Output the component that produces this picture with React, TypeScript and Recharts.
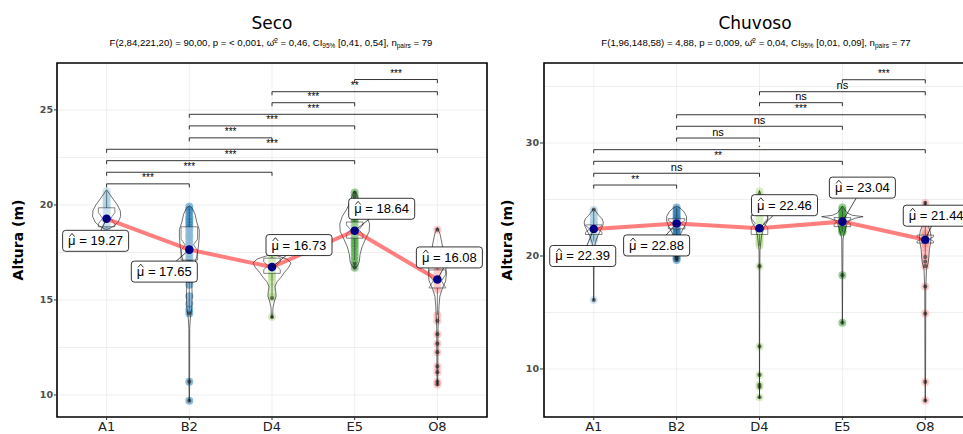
import React from "react";
import { ComposedChart, Scatter, XAxis, YAxis, CartesianGrid, ReferenceArea } from "recharts";

const groups = ["A1", "B2", "D4", "E5", "O8"];
const groupColors = ["#A6CEE3", "#1F78B4", "#B2DF8A", "#33A02C", "#FB9A99"];

// ---- Seco ----
const secoPoints = [
  [20.72, 20.55, 20.4, 20.3, 20.15, 20.05, 19.95, 19.85, 19.75, 19.65, 19.55, 19.45, 19.35, 19.3, 19.2, 19.1, 19.0, 18.95, 18.85, 18.8],
  [19.9, 19.75, 19.6, 19.4, 19.25, 19.1, 18.95, 18.8, 18.7, 18.55, 18.4, 18.3, 18.15, 18.0, 17.85, 17.7, 17.55, 17.4, 17.25, 17.1, 16.9, 16.7, 16.5, 16.3, 16.1, 15.8, 15.2, 14.8, 14.5, 14.3, 10.7, 9.7],
  [17.35, 17.2, 17.05, 16.95, 16.85, 16.75, 16.65, 16.55, 16.45, 16.35, 16.25, 16.1, 15.95, 15.7, 15.35, 15.2, 15.1, 14.1],
  [20.65, 20.45, 20.2, 19.95, 19.7, 19.5, 19.3, 19.15, 19.0, 18.85, 18.7, 18.6, 18.5, 18.4, 18.3, 18.15, 18.0, 17.85, 17.7, 17.5, 17.3, 17.1, 16.9, 16.7],
  [18.7, 17.3, 17.0, 16.8, 16.6, 16.45, 16.3, 16.15, 16.0, 15.85, 15.7, 15.55, 14.2, 13.9, 13.2, 12.7, 12.25, 11.5, 11.2, 10.7, 10.55],
];
const secoMeans = [19.27, 17.65, 16.73, 18.64, 16.08];
// [lower whisker, q1, median, q3, upper whisker]
const secoBoxes = [
  [18.8, 18.85, 19.3, 19.85, 20.72],
  [14.5, 17.1, 17.9, 18.85, 19.9],
  [15.2, 16.4, 16.8, 17.2, 17.35],
  [17.1, 18.25, 18.7, 19.1, 20.2],
  [14.2, 15.63, 16.0, 16.58, 17.3],
];
const secoNotches = [0.3, 0.3, 0.2, 0.25, 0.35];
// violin outline: [height, half width in category units]
const secoViolins = [
  [[20.8, 0], [20.55, 0.04], [20.3, 0.08], [20.0, 0.13], [19.7, 0.165], [19.4, 0.17], [19.1, 0.14], [18.9, 0.09], [18.75, 0.03], [18.72, 0]],
  [[19.95, 0], [19.8, 0.04], [19.5, 0.07], [19.1, 0.09], [18.7, 0.12], [18.3, 0.12], [17.8, 0.11], [17.3, 0.09], [16.8, 0.06], [16.3, 0.04], [15.8, 0.03], [15.2, 0.035], [14.6, 0.03], [14.0, 0.012], [13.5, 0.005], [10.5, 0.004], [9.65, 0]],
  [[17.4, 0], [17.3, 0.08], [17.15, 0.18], [16.95, 0.23], [16.7, 0.2], [16.45, 0.15], [16.2, 0.11], [15.95, 0.06], [15.7, 0.035], [15.45, 0.045], [15.2, 0.05], [14.95, 0.03], [14.6, 0.012], [14.2, 0.008], [14.05, 0]],
  [[20.72, 0], [20.5, 0.03], [20.1, 0.06], [19.75, 0.1], [19.4, 0.15], [19.0, 0.18], [18.6, 0.175], [18.2, 0.13], [17.8, 0.09], [17.4, 0.065], [17.0, 0.055], [16.8, 0.035], [16.68, 0]],
  [[18.8, 0], [18.5, 0.03], [18.1, 0.05], [17.6, 0.07], [17.2, 0.085], [16.8, 0.1], [16.4, 0.11], [16.0, 0.1], [15.6, 0.06], [15.2, 0.03], [14.7, 0.02], [14.2, 0.015], [13.5, 0.008], [11.0, 0.005], [10.5, 0]],
];
const secoBrackets = [
  ["A1", "B2", 21.11, "***"],
  ["A1", "D4", 21.72, "***"],
  ["A1", "E5", 22.33, "***"],
  ["A1", "O8", 22.93, "***"],
  ["B2", "D4", 23.53, "***"],
  ["B2", "E5", 24.16, "***"],
  ["B2", "O8", 24.77, "***"],
  ["D4", "E5", 25.38, "***"],
  ["D4", "O8", 25.96, "**"],
  ["E5", "O8", 26.6, "***"],
];

// ---- Chuvoso ----
const chuvosoPoints = [
  [24.1, 23.9, 23.7, 23.5, 23.3, 23.1, 22.95, 22.8, 22.65, 22.5, 22.35, 22.2, 22.05, 21.9, 21.75, 21.6, 21.45, 21.3, 16.1],
  [24.3, 24.1, 23.9, 23.7, 23.5, 23.35, 23.2, 23.05, 22.9, 22.75, 22.6, 22.45, 22.3, 22.15, 22.0, 21.8, 21.6, 21.4, 21.1, 20.8, 20.4, 20.0, 19.8, 19.65],
  [25.7, 25.4, 25.0, 24.6, 24.2, 23.9, 23.6, 23.35, 23.1, 22.9, 22.7, 22.5, 22.3, 22.1, 21.9, 21.7, 21.5, 21.3, 21.1, 20.9, 19.1, 12.0, 9.47, 8.6, 8.4, 7.5],
  [24.3, 24.1, 23.9, 23.75, 23.6, 23.45, 23.3, 23.2, 23.1, 23.0, 22.9, 22.8, 22.7, 22.6, 22.5, 22.35, 22.2, 22.1, 18.3, 14.1],
  [24.7, 24.3, 23.5, 22.8, 22.3, 22.0, 21.9, 21.8, 21.7, 21.6, 21.5, 21.5, 21.4, 21.3, 21.2, 21.1, 21.0, 20.7, 20.3, 19.9, 19.5, 19.1, 17.3, 14.9, 8.85, 7.2],
];
const chuvosoMeans = [22.39, 22.88, 22.46, 23.04, 21.44];
const chuvosoBoxes = [
  [21.3, 21.9, 22.4, 22.75, 23.9],
  [21.1, 22.4, 22.9, 23.3, 24.3],
  [20.9, 21.9, 22.9, 23.6, 25.7],
  [22.1, 22.6, 23.05, 23.4, 24.3],
  [20.0, 21.15, 21.5, 21.85, 22.8],
];
const chuvosoNotches = [0.3, 0.25, 0.4, 0.2, 0.2];
const chuvosoViolins = [
  [[24.15, 0], [23.9, 0.03], [23.6, 0.06], [23.3, 0.1], [23.0, 0.115], [22.7, 0.11], [22.4, 0.09], [22.1, 0.07], [21.8, 0.05], [21.5, 0.035], [21.2, 0.02], [20.5, 0.006], [16.05, 0]],
  [[24.4, 0], [24.2, 0.05], [23.9, 0.09], [23.5, 0.12], [23.1, 0.12], [22.7, 0.1], [22.3, 0.07], [21.9, 0.045], [21.4, 0.03], [20.8, 0.02], [20.2, 0.015], [19.7, 0.008], [19.6, 0]],
  [[25.8, 0], [25.4, 0.02], [24.8, 0.03], [24.2, 0.05], [23.8, 0.08], [23.4, 0.1], [23.0, 0.09], [22.6, 0.06], [22.2, 0.04], [21.8, 0.025], [21.2, 0.015], [20.5, 0.006], [19.0, 0.004], [7.4, 0]],
  [[24.4, 0], [24.1, 0.03], [23.8, 0.06], [23.6, 0.12], [23.48, 0.25], [23.35, 0.16], [23.15, 0.09], [22.9, 0.06], [22.6, 0.045], [22.3, 0.035], [22.0, 0.02], [21.5, 0.008], [18.0, 0.004], [14.0, 0]],
  [[24.8, 0], [24.3, 0.01], [23.5, 0.015], [22.8, 0.03], [22.2, 0.06], [21.7, 0.07], [21.2, 0.065], [20.6, 0.05], [20.0, 0.045], [19.4, 0.035], [18.8, 0.015], [17.0, 0.006], [10.0, 0.004], [7.1, 0]],
];
const chuvosoBrackets = [
  ["A1", "B2", 26.28, "**"],
  ["A1", "D4", 27.32, "ns"],
  ["A1", "E5", 28.38, "**"],
  ["A1", "O8", 29.41, "."],
  ["B2", "D4", 30.44, "ns"],
  ["B2", "E5", 31.48, "ns"],
  ["B2", "O8", 32.5, "***"],
  ["D4", "E5", 33.57, "ns"],
  ["D4", "O8", 34.54, "ns"],
  ["E5", "O8", 35.6, "***"],
];

// label box offsets in px from each mean point
const secoLabelOffsets = [[-11, 22], [-25, 22], [27, -22], [27, -22], [12, -22]];
const chuvosoLabelOffsets = [[-11, 27], [-20, 22], [25, -23], [20, -34], [11, -24]];

const NoDot = () => <g />;

function violinOutline(c, profile) {
  const right = profile.map(([y, w]) => ({ x: c + w, y }));
  const left = profile.slice().reverse().map(([y, w]) => ({ x: c - w, y }));
  return [...right, ...left, right[0]];
}

function boxOutline(c, box, notch) {
  const [, q1, med, q3] = box;
  const w = 0.1;
  const wi = 0.05;
  return [
    { x: c - w, y: q3 }, { x: c - w, y: med + notch }, { x: c - wi, y: med }, { x: c - w, y: med - notch }, { x: c - w, y: q1 },
    { x: c + w, y: q1 }, { x: c + w, y: med - notch }, { x: c + wi, y: med }, { x: c + w, y: med + notch }, { x: c + w, y: q3 },
    { x: c - w, y: q3 },
  ];
}

const MeanLabel = (p) => {
  const { cx, cy, payload } = p;
  const lx = cx + payload.dx;
  const ly = cy + payload.dy;
  const x0 = lx - 27.5;
  return (
    <g>
      <line x1={cx} y1={cy} x2={lx} y2={ly} stroke="#000" strokeWidth={0.7} />
      <rect x={lx - 33} y={ly - 10.5} width={66} height={21} rx={3} fill="#fff" stroke="#000" strokeWidth={0.8} />
      <text x={x0} y={ly + 4.5} fontSize={13} fontFamily="Liberation Sans, Arial, sans-serif" fill="#000">
        {"\u03BC = " + payload.text}
      </text>
      <path d={`M${x0 + 1.2},${ly - 4.2} L${x0 + 3.9},${ly - 7.4} L${x0 + 6.6},${ly - 4.2}`} stroke="#000" strokeWidth={0.8} fill="none" />
    </g>
  );
};

const BracketLabel = (p) => {
  const { cx, cy, payload } = p;
  const ns = payload.text === "ns";
  return (
    <text x={cx} y={cy - 2.5} textAnchor="middle" fontSize={ns ? 11 : 10} fontFamily="Liberation Sans, Arial, sans-serif" fill="#000">
      {payload.text}
    </text>
  );
};

function Panel({ points, means, boxes, notches, violins, brackets, domain, ticks, gridValues, labelOffsets, margin, tickSize }) {
  const tip = (domain[1] - domain[0]) * 0.01;
  const pos = (g) => groups.indexOf(g) + 1;
  return (
    <ComposedChart width={490} height={434} margin={margin}>
      <CartesianGrid stroke="#ebebeb" strokeWidth={0.8} horizontalValues={gridValues} verticalValues={[1, 2, 3, 4, 5]} />
      <XAxis
        type="number"
        dataKey="x"
        domain={[0.4, 5.6]}
        allowDataOverflow
        ticks={[1, 2, 3, 4, 5]}
        interval={0}
        tickFormatter={(v) => groups[v - 1]}
        height={17}
        tickSize={3}
        tickMargin={2}
        axisLine={false}
        tickLine={{ stroke: "#333" }}
        tick={{ fill: "#222", fontSize: 13, fontFamily: "DejaVu Sans" }}
      />
      <YAxis
        type="number"
        dataKey="y"
        domain={domain}
        allowDataOverflow
        ticks={ticks}
        interval={0}
        width={35}
        tickSize={tickSize}
        tickMargin={1}
        axisLine={false}
        tickLine={{ stroke: "#333" }}
        tick={{ fill: "#4d4d4d", fontSize: 9.5, fontWeight: "bold", fontFamily: "DejaVu Sans" }}
      />

      {points.map((vals, i) => (
        <Scatter
          key={"pts" + i}
          data={vals.map((v) => ({ x: i + 1, y: v }))}
          shape={(p) => <circle cx={p.cx} cy={p.cy} r={4} fill={groupColors[i]} fillOpacity={0.5} />}
          isAnimationActive={false}
        />
      ))}

      {boxes.map((b, i) => (
        <Scatter
          key={"box" + i}
          data={boxOutline(i + 1, b, notches[i])}
          line={{ stroke: "#333", strokeWidth: 0.6, fill: "#fff", fillOpacity: 0.4 }}
          lineType="joint"
          shape={NoDot}
          isAnimationActive={false}
        />
      ))}
      {boxes.map((b, i) => (
        <Scatter key={"wu" + i} data={[{ x: i + 1, y: b[3] }, { x: i + 1, y: b[4] }]} line={{ stroke: "#333", strokeWidth: 0.6 }} lineType="joint" shape={NoDot} isAnimationActive={false} />
      ))}
      {boxes.map((b, i) => (
        <Scatter key={"wl" + i} data={[{ x: i + 1, y: b[1] }, { x: i + 1, y: b[0] }]} line={{ stroke: "#333", strokeWidth: 0.6 }} lineType="joint" shape={NoDot} isAnimationActive={false} />
      ))}
      {boxes.map((b, i) => (
        <Scatter
          key={"out" + i}
          data={points[i].filter((v) => v < b[0] || v > b[4]).map((v) => ({ x: i + 1, y: v }))}
          shape={(p) => <circle cx={p.cx} cy={p.cy} r={2.1} fill="#333" fillOpacity={0.7} />}
          isAnimationActive={false}
        />
      ))}

      {violins.map((prof, i) => (
        <Scatter
          key={"vio" + i}
          data={violinOutline(i + 1, prof)}
          line={{ stroke: "#111", strokeWidth: 0.6, fill: "none" }}
          lineType="joint"
          shape={NoDot}
          isAnimationActive={false}
        />
      ))}

      <Scatter
        data={means.map((m, i) => ({ x: i + 1, y: m }))}
        line={{ stroke: "#ff0000", strokeOpacity: 0.5, strokeWidth: 4 }}
        lineType="joint"
        shape={(p) => <circle cx={p.cx} cy={p.cy} r={4.3} fill="#00008B" />}
        isAnimationActive={false}
      />
      <Scatter
        data={means.map((m, i) => ({ x: i + 1, y: m, text: m.toFixed(2), dx: labelOffsets[i][0], dy: labelOffsets[i][1] }))}
        shape={MeanLabel}
        isAnimationActive={false}
      />

      {brackets.map(([a, b, level], i) => (
        <Scatter
          key={"br" + i}
          data={[
            { x: pos(a), y: level - tip },
            { x: pos(a), y: level },
            { x: pos(b), y: level },
            { x: pos(b), y: level - tip },
          ]}
          line={{ stroke: "#000", strokeWidth: 0.8 }}
          lineType="joint"
          shape={NoDot}
          isAnimationActive={false}
        />
      ))}
      <Scatter
        data={brackets.map(([a, b, level, text]) => ({ x: (pos(a) + pos(b)) / 2, y: level, text }))}
        shape={BracketLabel}
        isAnimationActive={false}
      />

      <ReferenceArea x1={0.4} x2={5.6} y1={domain[0]} y2={domain[1]} ifOverflow="visible" fill="none" stroke="#000" strokeWidth={1.6} />
    </ComposedChart>
  );
}

const sub = { fontSize: 6.5, position: "relative", top: 2 } as const;
const sup = { fontSize: 6.5, position: "relative", top: -3 } as const;

function StatLine({ f, p, omega, ci, n }) {
  return (
    <span>
      {f}, p = {p}, {"\u03C9\u0302"}
      <span style={sup}>2</span> = {omega}, CI<span style={sub}>95%</span> [{ci}], n<span style={sub}>pairs</span> = {n}
    </span>
  );
}

const titleStyle = { position: "absolute", top: 13, fontSize: 17, lineHeight: "20px", fontFamily: "DejaVu Sans", color: "#000", transform: "translateX(-50%)", whiteSpace: "nowrap" } as const;
const subStyle = { position: "absolute", top: 37, fontSize: 9.6, lineHeight: "11px", fontFamily: "Liberation Sans, Arial, sans-serif", color: "#000", transform: "translateX(-50%)", whiteSpace: "nowrap" } as const;
const ylabStyle = { position: "absolute", top: 240, fontSize: 14, fontWeight: "bold", fontFamily: "DejaVu Sans", color: "#000", transform: "translate(-50%, -50%) rotate(-90deg)", whiteSpace: "nowrap" } as const;

export default function App() {
  return (
    <div style={{ position: "fixed", left: 0, top: 0, width: 963, height: 434, overflow: "hidden", background: "#fff" }}>
      <div style={{ position: "absolute", left: 0, top: 0 }}>
        <Panel
          points={secoPoints}
          means={secoMeans}
          boxes={secoBoxes}
          notches={secoNotches}
          violins={secoViolins}
          brackets={secoBrackets}
          domain={[8.84, 27.47]}
          ticks={[10, 15, 20, 25]}
          gridValues={[10, 12.5, 15, 17.5, 20, 22.5, 25]}
          labelOffsets={secoLabelOffsets}
          margin={{ top: 63, right: 3, bottom: 0, left: 22 }}
          tickSize={3}
        />
      </div>
      <div style={{ position: "absolute", left: 490, top: 0 }}>
        <Panel
          points={chuvosoPoints}
          means={chuvosoMeans}
          boxes={chuvosoBoxes}
          notches={chuvosoNotches}
          violins={chuvosoViolins}
          brackets={chuvosoBrackets}
          domain={[5.75, 37.08]}
          ticks={[10, 20, 30]}
          gridValues={[10, 15, 20, 25, 30, 35]}
          labelOffsets={chuvosoLabelOffsets}
          margin={{ top: 63, right: 5, bottom: 0, left: 19 }}
          tickSize={4}
        />
      </div>
      <div style={{ ...titleStyle, left: 272 }}>Seco</div>
      <div style={{ ...titleStyle, left: 755 }}>Chuvoso</div>
      <div style={{ ...subStyle, left: 271 }}>
        <StatLine f="F(2,84,221,20) = 90,00" p="< 0,001" omega="0,46" ci="0,41, 0,54" n="79" />
      </div>
      <div style={{ ...subStyle, left: 756 }}>
        <StatLine f="F(1,96,148,58) = 4,88" p="0,009" omega="0,04" ci="0,01, 0,09" n="77" />
      </div>
      <div style={{ ...ylabStyle, left: 18 }}>Altura (m)</div>
      <div style={{ ...ylabStyle, left: 507 }}>Altura (m)</div>
    </div>
  );
}
